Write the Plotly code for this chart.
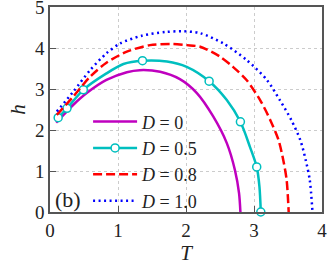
import plotly.graph_objects as go

# D = 0
T0 = [0.09, 0.34, 0.54, 0.83, 1.13, 1.32, 1.62, 1.91, 2.16, 2.4, 2.6, 2.72, 2.78, 2.8]
h0 = [2.18, 2.61, 2.9, 3.22, 3.41, 3.46, 3.42, 3.24, 2.9, 2.33, 1.68, 1.02, 0.46, 0.0]
# D = 0.5 (line)
T05 = [0.12, 0.25, 0.49, 0.83, 1.08, 1.36, 1.72, 2.01, 2.34, 2.6, 2.8, 2.94, 3.04, 3.08, 3.1]
h05 = [2.3, 2.53, 2.98, 3.38, 3.61, 3.69, 3.67, 3.54, 3.19, 2.73, 2.2, 1.59, 1.1, 0.62, 0.0]
# D = 0.5 (markers)
T05m = [0.12, 0.25, 0.49, 1.36, 2.34, 2.8, 3.04, 3.1]
h05m = [2.3, 2.53, 2.98, 3.69, 3.19, 2.2, 1.1, 0.0]
# D = 0.8
T08 = [0.1, 0.34, 0.59, 0.83, 1.13, 1.47, 1.81, 2.01, 2.21, 2.5, 2.69, 2.89, 3.09, 3.24, 3.36, 3.43, 3.48, 3.51]
h08 = [2.37, 2.81, 3.3, 3.64, 3.91, 4.07, 4.1, 4.07, 4.03, 3.79, 3.54, 3.22, 2.73, 2.24, 1.76, 1.27, 0.78, 0.0]
# D = 1.0
T10 = [0.1, 0.34, 0.59, 0.83, 1.03, 1.35, 1.7, 1.95, 2.21, 2.55, 2.89, 3.19, 3.38, 3.55, 3.68, 3.76, 3.82, 3.86]
h10 = [2.45, 2.93, 3.46, 3.87, 4.11, 4.3, 4.39, 4.41, 4.36, 4.11, 3.71, 3.22, 2.73, 2.24, 1.76, 1.27, 0.78, 0.0]

labels = ["<i>D</i> = 0", "<i>D</i> = 0.5", "<i>D</i> = 0.8", "<i>D</i> = 1.0"]
xticks = [0, 1, 2, 3, 4]
yticks = [0, 1, 2, 3, 4, 5]

MAG, CYA, RED, BLU = "#bf00bf", "#00bfbf", "#ff0000", "#0000ff"
LW = 2.5
SERIF = "Liberation Serif, DejaVu Serif, serif"

fig = go.Figure()
fig.add_trace(go.Scatter(x=T0, y=h0, mode="lines", line=dict(color=MAG, width=LW, shape="spline", smoothing=0.8),
                         name=labels[0], legendgroup="a"))
fig.add_trace(go.Scatter(x=T05, y=h05, mode="lines", line=dict(color=CYA, width=LW, shape="spline", smoothing=0.8),
                         showlegend=False, legendgroup="b"))
fig.add_trace(go.Scatter(x=T05m, y=h05m, mode="markers",
                         marker=dict(symbol="circle", size=8, color="white",
                                     line=dict(color=CYA, width=1.5)),
                         showlegend=False, legendgroup="b", cliponaxis=False))
fig.add_trace(go.Scatter(x=[None], y=[None], mode="lines+markers",
                         line=dict(color=CYA, width=LW),
                         marker=dict(symbol="circle", size=8, color="white",
                                     line=dict(color=CYA, width=1.5)),
                         name=labels[1], legendgroup="b"))
fig.add_trace(go.Scatter(x=T08, y=h08, mode="lines",
                         line=dict(color=RED, width=LW, dash="9px,4px", shape="spline", smoothing=0.8),
                         name=labels[2], legendgroup="c"))
fig.add_trace(go.Scatter(x=T10, y=h10, mode="lines",
                         line=dict(color=BLU, width=LW, dash="2px,3.5px", shape="spline", smoothing=0.8),
                         name=labels[3], legendgroup="d"))

axcommon = dict(showline=True, linecolor="#555555", linewidth=1.5, mirror=True,
                ticks="inside", ticklen=6, tickwidth=1.2, tickcolor="#555555",
                showgrid=True, gridcolor="#cccccc", griddash="dot", gridwidth=1,
                zeroline=False, automargin=False, ticklabeloverflow="allow",
                tickfont=dict(family=SERIF, size=19, color="#222222"))

fig.update_xaxes(range=[0, 4], tickvals=xticks, ticktext=[str(v) for v in xticks],
                 title=dict(text="<i>T</i>", font=dict(family=SERIF, size=21, color="#222222"),
                            standoff=2),
                 **axcommon)
fig.update_yaxes(range=[0, 5], tickvals=yticks, ticktext=[str(v) for v in yticks],
                 title=dict(text="<i>h</i>", font=dict(family=SERIF, size=21, color="#222222"),
                            standoff=4),
                 **axcommon)

fig.add_annotation(text="(b)", xref="paper", yref="paper", x=0.01, y=-0.01,
                   xanchor="left", yanchor="bottom", showarrow=False,
                   font=dict(family=SERIF, size=22, color="#222222"))

fig.update_layout(
    width=332, height=266,
    margin=dict(l=50, r=10, t=7, b=54),
    paper_bgcolor="white", plot_bgcolor="white",
    showlegend=True,
    legend=dict(x=0.14, y=0.53, xanchor="left", yanchor="top", itemwidth=44,
                bgcolor="rgba(0,0,0,0)", borderwidth=0, tracegroupgap=0,
                font=dict(family=SERIF, size=18, color="#222222")),
)

fig.write_html("out.html", config={"displayModeBar": False},
               post_script="document.body.style.margin='0';document.body.style.overflow='hidden';")
